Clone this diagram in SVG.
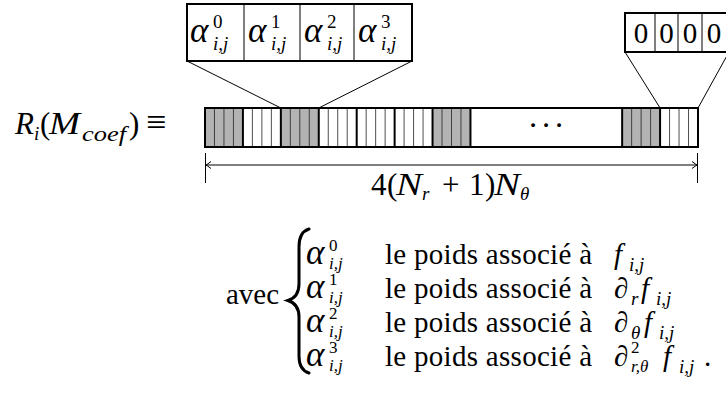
<svg xmlns="http://www.w3.org/2000/svg" width="726" height="406" viewBox="0 0 726 406">
<style>
.m{font-family:"Liberation Serif","DejaVu Serif",serif;font-size:29px;fill:#000}
.it{font-style:italic}
.a{font-style:italic;font-size:35px}
.s{font-size:19px}
.ss{font-size:17px}
.thick{fill:none;stroke:#000;stroke-width:2}
.thin{stroke:#222;stroke-width:0.8}
.gray{fill:#b3b3b3}
.white{fill:#fff}
.ln{stroke:#000;stroke-width:1;fill:none}
</style>
<rect width="726" height="406" fill="#fff"/>

<g id="label-R">
<text class="m" y="134" style="font-size:31px"><tspan class="it" x="15">R</tspan><tspan class="s it" x="34" y="140">i</tspan><tspan x="40" y="134">(</tspan><tspan class="it" x="49" textLength="31" lengthAdjust="spacingAndGlyphs">M</tspan><tspan class="it" x="82" y="141" style="font-size:22px" textLength="44" lengthAdjust="spacingAndGlyphs">coef</tspan><tspan x="129" y="134">)</tspan><tspan x="146" style="font-size:36px">≡</tspan></text>
</g>

<g id="zoom-box-alpha">
<rect x="187" y="4" width="225" height="57" class="white"/>
<line x1="244" y1="4" x2="244" y2="61" class="ln"/>
<line x1="300" y1="4" x2="300" y2="61" class="ln"/>
<line x1="354" y1="4" x2="354" y2="61" class="ln"/>
<rect x="187" y="4" width="225" height="57" class="thick"/>
<text class="m" y="42"><tspan class="a" x="190">α</tspan><tspan class="s" x="213" y="28">0</tspan><tspan class="s it" x="213" y="50">i,j</tspan></text>
<text class="m" y="42"><tspan class="a" x="248">α</tspan><tspan class="s" x="271" y="28">1</tspan><tspan class="s it" x="271" y="50">i,j</tspan></text>
<text class="m" y="42"><tspan class="a" x="304">α</tspan><tspan class="s" x="327" y="28">2</tspan><tspan class="s it" x="327" y="50">i,j</tspan></text>
<text class="m" y="42"><tspan class="a" x="358">α</tspan><tspan class="s" x="381" y="28">3</tspan><tspan class="s it" x="381" y="50">i,j</tspan></text>
</g>

<g id="zoom-box-zero">
<rect x="625" y="13" width="104" height="39" class="white"/>
<line x1="655" y1="13" x2="655" y2="52" class="ln"/>
<line x1="678" y1="13" x2="678" y2="52" class="ln"/>
<line x1="702" y1="13" x2="702" y2="52" class="ln"/>
<rect x="625" y="13" width="104" height="39" class="thick"/>
<text class="m" y="43" text-anchor="middle"><tspan x="641">0</tspan><tspan x="666.5">0</tspan><tspan x="690">0</tspan><tspan x="714">0</tspan></text>
</g>

<g id="bar">
<rect x="205" y="108" width="37.92" height="39" class="gray"/>
<rect x="280.85" y="108" width="37.92" height="39" class="gray"/>
<rect x="432.54" y="108" width="37.92" height="39" class="gray"/>
<rect x="622.15" y="108" width="37.93" height="39" class="gray"/>
<g class="thin">
<line x1="214.48" y1="108" x2="214.48" y2="147"/><line x1="223.96" y1="108" x2="223.96" y2="147"/><line x1="233.44" y1="108" x2="233.44" y2="147"/>
<line x1="252.40" y1="108" x2="252.40" y2="147"/><line x1="261.88" y1="108" x2="261.88" y2="147"/><line x1="271.36" y1="108" x2="271.36" y2="147"/>
<line x1="290.33" y1="108" x2="290.33" y2="147"/><line x1="299.81" y1="108" x2="299.81" y2="147"/><line x1="309.29" y1="108" x2="309.29" y2="147"/>
<line x1="328.25" y1="108" x2="328.25" y2="147"/><line x1="337.73" y1="108" x2="337.73" y2="147"/><line x1="347.21" y1="108" x2="347.21" y2="147"/>
<line x1="366.17" y1="108" x2="366.17" y2="147"/><line x1="375.65" y1="108" x2="375.65" y2="147"/><line x1="385.13" y1="108" x2="385.13" y2="147"/>
<line x1="404.10" y1="108" x2="404.10" y2="147"/><line x1="413.58" y1="108" x2="413.58" y2="147"/><line x1="423.06" y1="108" x2="423.06" y2="147"/>
<line x1="442.02" y1="108" x2="442.02" y2="147"/><line x1="451.50" y1="108" x2="451.50" y2="147"/><line x1="460.98" y1="108" x2="460.98" y2="147"/>
<line x1="631.63" y1="108" x2="631.63" y2="147"/><line x1="641.11" y1="108" x2="641.11" y2="147"/><line x1="650.60" y1="108" x2="650.60" y2="147"/>
<line x1="669.56" y1="108" x2="669.56" y2="147"/><line x1="679.04" y1="108" x2="679.04" y2="147"/><line x1="688.52" y1="108" x2="688.52" y2="147"/>
</g>
<g stroke="#000" stroke-width="2">
<line x1="242.92" y1="108" x2="242.92" y2="147"/>
<line x1="280.85" y1="108" x2="280.85" y2="147"/>
<line x1="318.77" y1="108" x2="318.77" y2="147"/>
<line x1="356.69" y1="108" x2="356.69" y2="147"/>
<line x1="394.62" y1="108" x2="394.62" y2="147"/>
<line x1="432.54" y1="108" x2="432.54" y2="147"/>
<line x1="470.46" y1="108" x2="470.46" y2="147"/>
<line x1="622.15" y1="108" x2="622.15" y2="147"/>
<line x1="660.08" y1="108" x2="660.08" y2="147"/>
</g>
<rect x="205" y="108" width="493" height="39" class="thick"/>
<text class="m" y="136" text-anchor="middle" style="font-size:32px"><tspan x="533">·</tspan><tspan x="546">·</tspan><tspan x="559">·</tspan></text>
</g>

<g id="connectors">
<line x1="187" y1="61" x2="280.85" y2="108" class="ln"/>
<line x1="412" y1="61" x2="318.77" y2="108" class="ln"/>
<line x1="625" y1="52" x2="660.08" y2="108" class="ln"/>
<line x1="729" y1="52" x2="698" y2="108" class="ln"/>
<line x1="205.5" y1="153" x2="205.5" y2="183" class="ln"/>
<line x1="697.5" y1="153" x2="697.5" y2="183" class="ln"/>
<line x1="206" y1="165" x2="697" y2="165" class="ln"/>
<path d="M211 161.5 Q207 164.5 206 165 Q207 165.5 211 168.5" class="ln"/>
<path d="M692 161.5 Q696 164.5 697 165 Q696 165.5 692 168.5" class="ln"/>
</g>

<g id="label-size">
<text class="m" y="195" style="font-size:31px"><tspan x="371">4</tspan><tspan x="387">(</tspan><tspan class="it" x="396" textLength="26" lengthAdjust="spacingAndGlyphs">N</tspan><tspan class="s it" x="422" y="200">r</tspan><tspan x="442" y="195">+</tspan><tspan x="469">1</tspan><tspan x="485">)</tspan><tspan class="it" x="494" textLength="26" lengthAdjust="spacingAndGlyphs">N</tspan><tspan class="s it" x="520" y="200">θ</tspan></text>
</g>

<g id="legend">
<text class="m" x="226" y="304" textLength="53" lengthAdjust="spacing">avec</text>
<path d="M309 229 Q299 232 299 247 L299 284 Q299 297 288 300.5 Q299 304 299 317 L299 356 Q299 370 309 373" fill="none" stroke="#000" stroke-width="3" stroke-linecap="round"/>
<text class="m" y="264"><tspan class="a" x="306">α</tspan><tspan class="ss" x="329" y="251">0</tspan><tspan class="ss it" x="329" y="269">i,j</tspan></text>
<text class="m" y="298"><tspan class="a" x="306">α</tspan><tspan class="ss" x="329" y="285">1</tspan><tspan class="ss it" x="329" y="303">i,j</tspan></text>
<text class="m" y="332"><tspan class="a" x="306">α</tspan><tspan class="ss" x="329" y="319">2</tspan><tspan class="ss it" x="329" y="337">i,j</tspan></text>
<text class="m" y="366"><tspan class="a" x="306">α</tspan><tspan class="ss" x="329" y="353">3</tspan><tspan class="ss it" x="329" y="371">i,j</tspan></text>
<text class="m" x="385" y="264" textLength="207" lengthAdjust="spacing">le poids associé à</text>
<text class="m" x="385" y="298" textLength="207" lengthAdjust="spacing">le poids associé à</text>
<text class="m" x="385" y="332" textLength="207" lengthAdjust="spacing">le poids associé à</text>
<text class="m" x="385" y="366" textLength="207" lengthAdjust="spacing">le poids associé à</text>
<text class="m" y="264"><tspan class="it" x="614">f</tspan><tspan class="s it" x="629" y="271">i,j</tspan></text>
<text class="m" y="298"><tspan x="614">∂</tspan><tspan class="s it" x="631" y="305">r</tspan><tspan class="it" x="641" y="298">f</tspan><tspan class="s it" x="656" y="305">i,j</tspan></text>
<text class="m" y="332"><tspan x="614">∂</tspan><tspan class="s it" x="631" y="339">θ</tspan><tspan class="it" x="644" y="332">f</tspan><tspan class="s it" x="659" y="339">i,j</tspan></text>
<text class="m" y="366"><tspan x="614">∂</tspan><tspan class="ss" x="631" y="353">2</tspan><tspan class="ss it" x="631" y="372">r,θ</tspan><tspan class="it" x="663" y="366">f</tspan><tspan class="s it" x="679" y="373">i,j</tspan><tspan x="704" y="366">.</tspan></text>
</g>
</svg>
